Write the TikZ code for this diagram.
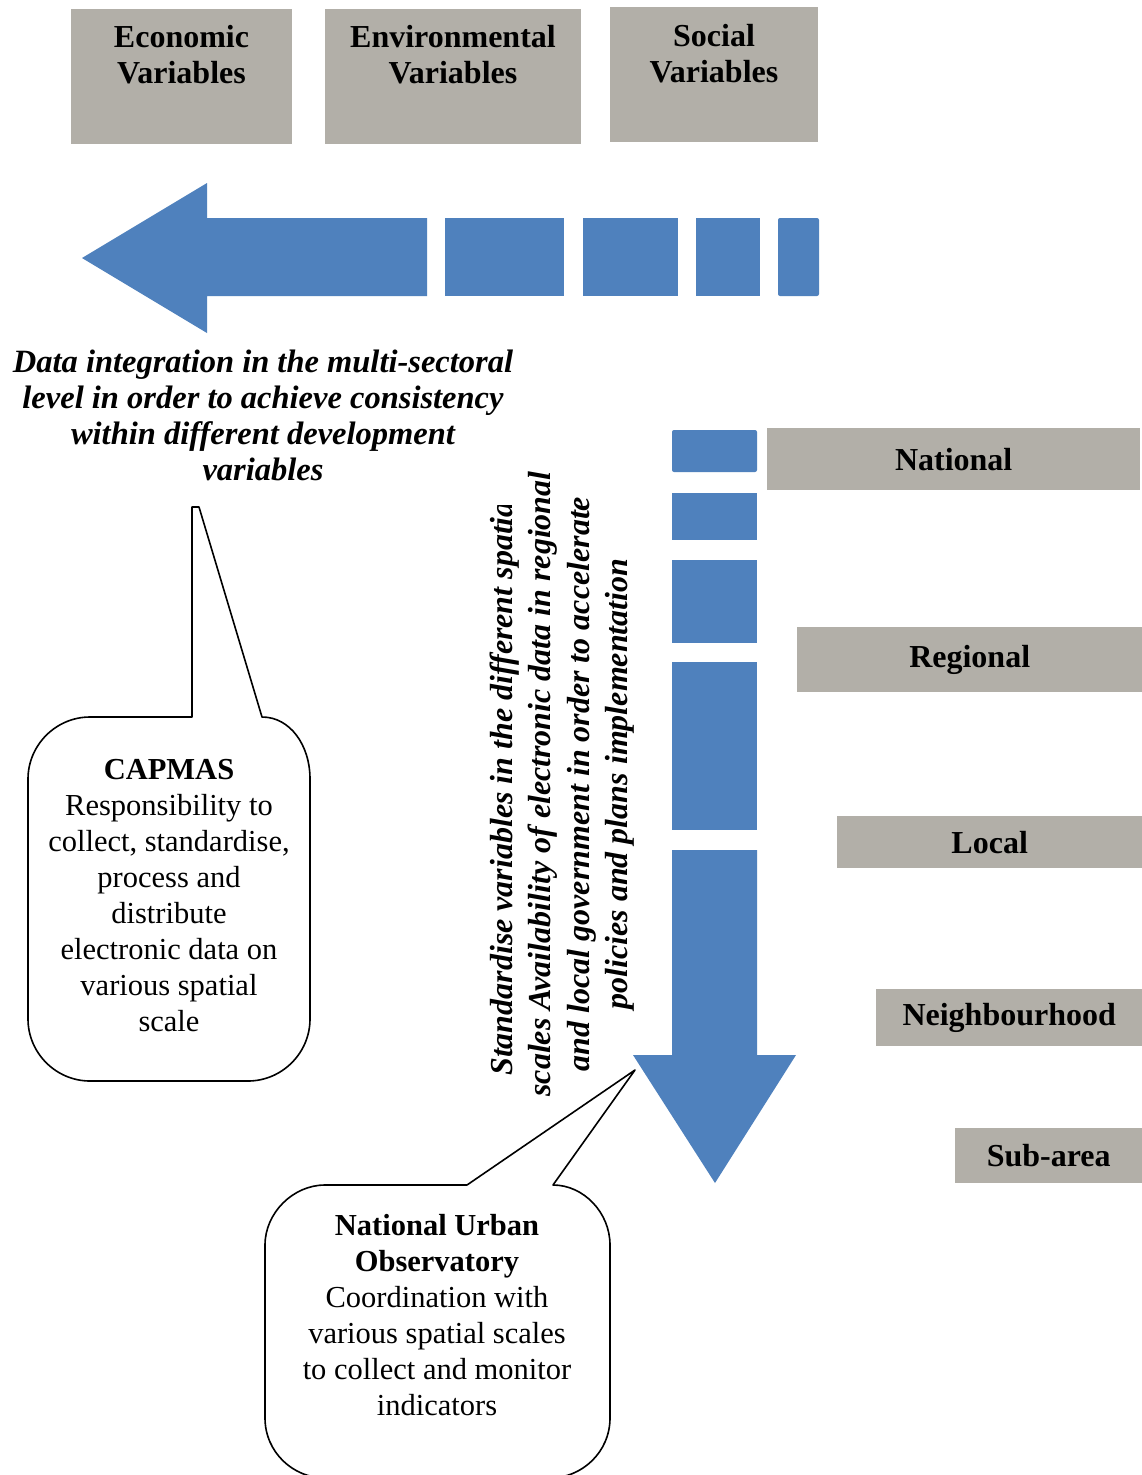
\documentclass[tikz,border=0pt]{standalone}
\usepackage{fontspec}
\setmainfont{Liberation Serif}
\definecolor{abl}{RGB}{79,129,189}
\definecolor{bgr}{RGB}{178,175,168}
\begin{document}
\begin{tikzpicture}[x=1pt,y=-1pt,
  gbox/.style={fill=bgr, draw=none, inner sep=0, anchor=north west},
  btxt/.style={font=\bfseries\fontsize{32}{36}\selectfont, align=center, inner sep=0},
  rtxt/.style={font=\fontsize{30.5}{36}\selectfont, align=center, inner sep=0},
  itxt/.style={font=\bfseries\itshape\fontsize{32.5}{36}\selectfont, align=center, inner sep=0},
  vtxt/.style={font=\bfseries\itshape\fontsize{32}{38.5}\selectfont, align=center, inner sep=0, rotate=90},
  bluef/.style={fill=abl, draw=none},
  callout/.style={draw=black, line width=1.6pt, fill=white, line join=round}]

\clip (0,0) rectangle (1142,1475);
\fill[white] (0,0) rectangle (1142,1475);

% top variable boxes
\node[gbox, minimum width=221, minimum height=135] (econ) at (71,9) {};
\node[gbox, minimum width=256, minimum height=135] (envi) at (325,9) {};
\node[gbox, minimum width=208, minimum height=135] (soci) at (610,7) {};
\node[btxt] (econT) at (181.5,55) {Economic\\Variables};
\node[btxt] (enviT) at (453,55) {Environmental\\Variables};
\node[btxt] (sociT) at (714,54) {Social\\Variables};

% left arrow (segmented)
\fill[bluef] (82,258) -- (207,183) -- (207,218) -- (427,218) -- (427,296)
  -- (207,296) -- (207,333) -- cycle;
\fill[bluef] (445,218) rectangle (564,296);
\fill[bluef] (583,218) rectangle (678,296);
\fill[bluef] (696,218) rectangle (760,296);
\fill[bluef, rounded corners=2] (778,218) rectangle (819,296);

% horizontal italic text
\node[itxt] (integ) at (263,415) {Data integration in the multi-sectoral\\level in order to achieve consistency\\within different development\\variables};

% down arrow (segmented)
\fill[bluef, rounded corners=2] (672,430) rectangle (757,472);
\fill[bluef] (672,493) rectangle (757,540);
\fill[bluef] (672,560) rectangle (757,643);
\fill[bluef] (672,662) rectangle (757,830);
\fill[bluef] (672,850) -- (757,850) -- (757,1055) -- (796,1055) -- (715,1183)
  -- (633,1055) -- (672,1055) -- cycle;

% spatial scale boxes
\node[gbox, btxt, minimum width=373, minimum height=62] (nat) at (767,428) {National};
\node[gbox, btxt, minimum width=345, minimum height=65] (reg) at (797,627) {Regional};
\node[gbox, btxt, minimum width=305, minimum height=52] (loc) at (837,816) {Local};
\node[gbox, btxt, minimum width=266, minimum height=57] (nei) at (876,989) {Neighbourhood};
\node[gbox, btxt, minimum width=187, minimum height=55] (sub) at (955,1128) {Sub-area};

% vertical text
\begin{scope}
\clip (460,505) -- (524,505) -- (524,420) -- (665,420) -- (665,1130) -- (460,1130) -- cycle;
\node[vtxt] (vert) at (562,784) {Standardise variables in the different spatial\\scales Availability of electronic data in regional\\and local government in order to accelerate\\policies and plans implementation};
\end{scope}

% CAPMAS callout
\draw[callout] (192,717) -- (192,507) -- (199,507) -- (262,717)
  .. controls (290,717) and (310,745) .. (310,779) -- (310,1019)
  .. controls (310,1053) and (282,1081) .. (248,1081) -- (90,1081)
  .. controls (56,1081) and (28,1053) .. (28,1019) -- (28,779)
  .. controls (28,745) and (56,717) .. (90,717) -- cycle;
\node[rtxt] (capT) at (169,896) {\textbf{CAPMAS}\\Responsibility to\\collect, standardise,\\process and\\distribute\\electronic data on\\various spatial\\scale};

% National Urban Observatory callout
\draw[callout] (467,1185) -- (635,1070) -- (553,1185)
  .. controls (584,1185) and (610,1213) .. (610,1245) -- (610,1418)
  .. controls (610,1452) and (582,1478) .. (550,1478) -- (325,1478)
  .. controls (293,1478) and (265,1452) .. (265,1418) -- (265,1245)
  .. controls (265,1213) and (293,1185) .. (325,1185) -- cycle;
\node[rtxt] (nuoT) at (437,1315) {\textbf{National Urban}\\\textbf{Observatory}\\Coordination with\\various spatial scales\\to collect and monitor\\indicators};
\end{tikzpicture}
\end{document}
